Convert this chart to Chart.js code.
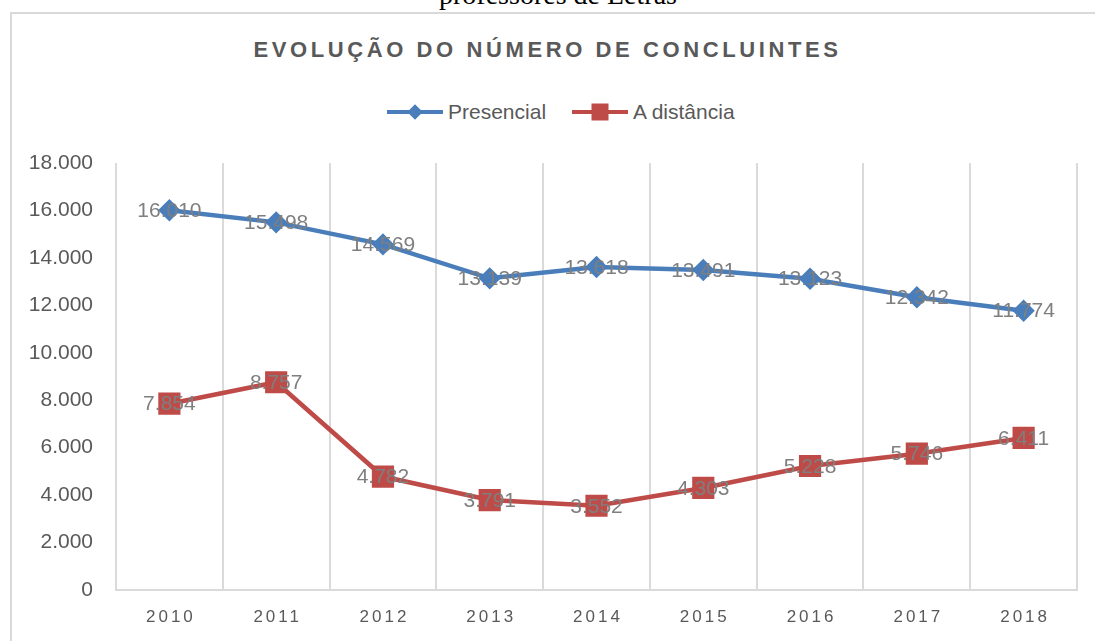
<!DOCTYPE html>
<html><head><meta charset="utf-8">
<script src="https://cdn.jsdelivr.net/npm/chart.js@4/dist/chart.umd.min.js"></script>
<style>
html,body{margin:0;padding:0;background:#fff;}
body{width:1095px;height:641px;overflow:hidden;position:relative;font-family:"Liberation Sans",Arial,sans-serif;}
#frame{position:absolute;left:10px;top:12px;width:1200px;height:800px;border-left:2px solid #d9d9d9;border-top:2px solid #d9d9d9;box-sizing:border-box;}
#cap{position:absolute;left:0;width:1116px;top:-22px;text-align:center;font-family:"Liberation Serif","Times New Roman",serif;font-size:28px;line-height:34px;color:#000;white-space:nowrap;}
#title{position:absolute;left:0;width:1095px;top:37px;text-align:center;font-weight:bold;font-size:22px;letter-spacing:3.6px;color:#595959;white-space:nowrap;}
.leg{position:absolute;top:99px;height:26px;display:flex;align-items:center;font-size:21px;color:#595959;white-space:nowrap;}
.ln{position:relative;width:56px;height:4px;margin-right:5px;}
.mk{position:absolute;left:50%;top:50%;}
canvas{position:absolute;left:0;top:0;}
</style>
</head><body>
<div id="frame"></div>
<div id="cap">professores de Letras</div>
<div id="title">EVOLUÇÃO DO NÚMERO DE CONCLUINTES</div>
<div class="leg" style="left:387px"><div class="ln" style="background:#4a7ebb"><div class="mk" style="width:11px;height:11px;background:#4a7ebb;transform:translate(-50%,-50%) rotate(45deg)"></div></div><span>Presencial</span></div>
<div class="leg" style="left:572px"><div class="ln" style="background:#be4b48"><div class="mk" style="width:17px;height:17px;background:#be4b48;transform:translate(-50%,-50%)"></div></div><span>A distância</span></div>
<canvas id="c" width="1095" height="641"></canvas>
<script>
const years = ["2010","2011","2012","2013","2014","2015","2016","2017","2018"];
const presencial = [16010,15498,14569,13139,13618,13491,13123,12342,11774];
const distancia = [7854,8757,4782,3791,3552,4303,5228,5746,6411];
const yTicks = [0,2000,4000,6000,8000,10000,12000,14000,16000,18000];

function fmt(v){return String(v).replace(/\B(?=(\d{3})+(?!\d))/g,'.');}

const labelPlugin = {
  id:'labels',
  afterDatasetsDraw(chart){
    const ctx = chart.ctx;
    ctx.save();
    ctx.font = '21px "Liberation Sans", Arial, sans-serif';
    ctx.fillStyle = '#7f7f7f';
    ctx.textAlign = 'center';
    ctx.textBaseline = 'middle';
    chart.data.datasets.forEach((ds,i)=>{
      chart.getDatasetMeta(i).data.forEach((pt,j)=>{
        ctx.fillText(fmt(ds.data[j]), pt.x, pt.y+1);
      });
    });
    ctx.restore();
  },
  afterDraw(chart){
    const ctx = chart.ctx;
    const xs = chart.scales.x;
    ctx.save();
    ctx.font = '17px "Liberation Sans", Arial, sans-serif';
    ctx.fillStyle = '#595959';
    ctx.textAlign = 'center';
    ctx.textBaseline = 'middle';
    try{ ctx.letterSpacing = '3px'; }catch(e){}
    chart.data.labels.forEach((l,i)=>{
      ctx.fillText(l, xs.getPixelForTick(i)+1.5, 617);
    });
    ctx.restore();
  }
};

new Chart(document.getElementById('c'), {
  type:'line',
  data:{
    labels: years,
    datasets:[
      {label:'Presencial', data:presencial, borderColor:'#4a7ebb', backgroundColor:'#4a7ebb', borderWidth:4.5, pointStyle:'rectRot', pointRadius:8, pointHoverRadius:8, tension:0},
      {label:'A distância', data:distancia, borderColor:'#be4b48', backgroundColor:'#be4b48', borderWidth:4.5, pointStyle:'rect', pointRadius:12.5, pointHoverRadius:12.5, tension:0}
    ]
  },
  options:{
    responsive:false, animation:false,
    layout:{padding:{left:10,right:18,top:163,bottom:0}},
    plugins:{legend:{display:false}, title:{display:false}, tooltip:{enabled:false}},
    scales:{
      x:{
        type:'category', offset:true,
        grid:{display:true, offset:true, color:'#dadada', lineWidth:2, drawTicks:false},
        border:{display:true, color:'#dadada', width:2},
        ticks:{display:false},
        afterFit(s){ s.height = 51; }
      },
      y:{
        min:0, max:18000,
        afterBuildTicks(s){ s.ticks = yTicks.map(v=>({value:v})); },
        grid:{display:false, drawTicks:false},
        border:{display:false},
        ticks:{padding:23, color:'#595959', font:{family:'"Liberation Sans", Arial, sans-serif', size:21}, callback:(v)=>fmt(v)},
        afterFit(s){ s.width = 106; }
      }
    }
  },
  plugins:[labelPlugin]
});
</script>
</body></html>
